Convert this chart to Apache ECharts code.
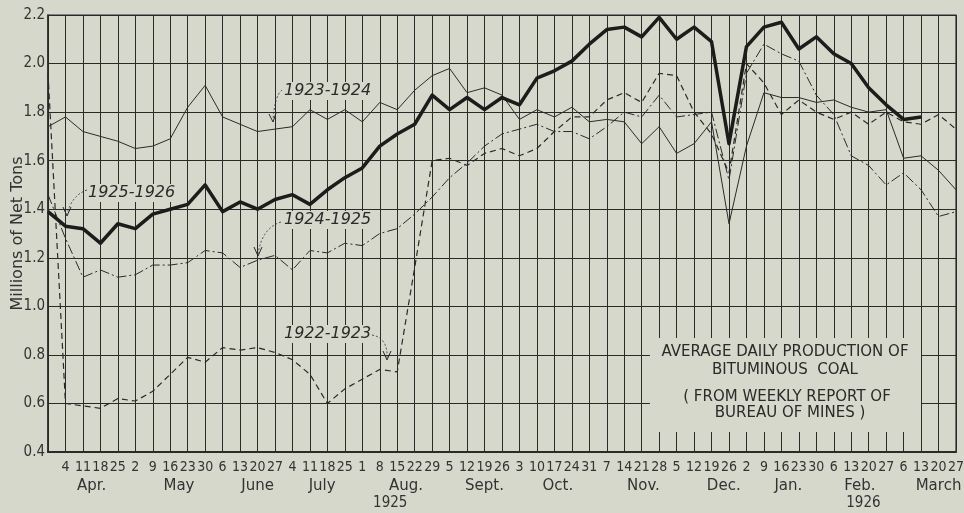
<!DOCTYPE html>
<html>
<head>
<meta charset="utf-8">
<script src="https://cdn.jsdelivr.net/npm/echarts@6/dist/echarts.min.js"></script>
<style>
html,body{margin:0;padding:0;background:#d6d8cc;}
#c{width:964px;height:513px;}
</style>
</head>
<body>
<div id="c"></div>
<script>
// Week-ending day labels (first slot = week before Apr 4, unlabeled)
const dayLabels = ['', '4','11','18','25','2','9','16','23','30','6','13','20','27','4','11','18','25','1','8','15','22','29','5','12','19','26','3','10','17','24','31','7','14','21','28','5','12','19','26','2','9','16','23','30','6','13','20','27','6','13','20','27'];
const monthLabels = ['Apr.','May','June','July','Aug.','Sept.','Oct.','Nov.','Dec.','Jan.','Feb.','March'];
const monthPos = [1.5, 6.5, 11.0, 14.7, 19.5, 24.0, 28.2, 33.1, 37.7, 41.4, 45.5, 50.0];
const yearLabels = ['1925','1926'];
const yearPos = [18.6, 45.7];

const s1925_26 = [1.39,1.33,1.32,1.26,1.34,1.32,1.38,1.40,1.42,1.50,1.39,1.43,1.40,1.44,1.46,1.42,1.48,1.53,1.57,1.66,1.71,1.75,1.87,1.81,1.86,1.81,1.86,1.83,1.94,1.97,2.01,2.08,2.14,2.15,2.11,2.19,2.10,2.15,2.09,1.67,2.07,2.15,2.17,2.06,2.11,2.04,2.00,1.90,1.83,1.77,1.78,null,null];
const s1923_24 = [1.74,1.78,1.72,1.70,1.68,1.65,1.66,1.69,1.82,1.91,1.78,1.75,1.72,1.73,1.74,1.81,1.77,1.81,1.76,1.84,1.81,1.89,1.95,1.98,1.88,1.90,1.87,1.77,1.81,1.78,1.82,1.76,1.77,1.76,1.67,1.74,1.63,1.67,1.76,1.34,1.66,1.88,1.86,1.86,1.84,1.85,1.82,1.80,1.81,1.61,1.62,1.56,1.48];
const s1924_25 = [1.46,1.28,1.12,1.15,1.12,1.13,1.17,1.17,1.18,1.23,1.22,1.16,1.19,1.21,1.15,1.23,1.22,1.26,1.25,1.30,1.32,1.38,1.45,1.53,1.59,1.66,1.71,1.73,1.75,1.72,1.72,1.69,1.74,1.80,1.78,1.87,1.78,1.79,1.80,1.52,1.96,2.08,2.04,2.01,1.87,1.79,1.62,1.58,1.50,1.55,1.48,1.37,1.39];
const s1922_23 = [1.96,0.60,0.59,0.58,0.62,0.61,0.65,0.72,0.79,0.77,0.83,0.82,0.83,0.81,0.78,0.72,0.60,0.66,0.70,0.74,0.73,1.16,1.60,1.61,1.58,1.63,1.65,1.62,1.65,1.72,1.78,1.78,1.85,1.88,1.84,1.96,1.95,1.80,1.71,1.55,2.00,1.92,1.79,1.85,1.80,1.77,1.80,1.75,1.80,1.76,1.75,1.79,1.73];

const INK = '#2a2a28';
const BG = '#d6d8cc';
const chart = echarts.init(document.getElementById('c'), null, {renderer:'canvas'});

function nearestLabel(v, pos, labels){
  for (let i=0;i<pos.length;i++){ if (Math.abs(pos[i]-v) < 0.01) return labels[i]; }
  return '';
}
const lineBase = {type:'line', symbol:'none', smooth:false, silent:true, animation:false};
const narrow = 'Liberation Sans Narrow, DejaVu Sans Condensed, sans-serif';

const option = {
  backgroundColor: BG,
  animation: false,
  grid: {left:48, right:8, top:15, bottom:61, containLabel:false, outerBoundsMode:'none',
         show:true, borderColor:INK, borderWidth:1.2, backgroundColor:'transparent'},
  xAxis: [
    {type:'category', data: dayLabels, boundaryGap:false,
     axisLine:{show:true, onZero:false, lineStyle:{color:INK, width:2}},
     axisTick:{show:false},
     splitLine:{show:true, interval:0, lineStyle:{color:INK, width:1}},
     axisLabel:{interval:0, margin:8, color:'#333', fontSize:14, fontFamily:narrow}},
    {type:'value', min:-1, max:51, position:'bottom',
     axisLine:{show:false, onZero:false}, axisTick:{show:false}, splitLine:{show:false},
     axisLabel:{customValues: monthPos, margin:27, color:'#333', fontSize:15, fontFamily:'DejaVu Sans, sans-serif',
       formatter: v => nearestLabel(v, monthPos, monthLabels)}},
    {type:'value', min:-1, max:51, position:'bottom',
     axisLine:{show:false, onZero:false}, axisTick:{show:false}, splitLine:{show:false},
     axisLabel:{customValues: yearPos, margin:44, color:'#333', fontSize:15, fontFamily:narrow,
       formatter: v => nearestLabel(v, yearPos, yearLabels)}}
  ],
  yAxis: {type:'value', min:0.4, max:2.2, interval:0.2,
    name:'Millions of Net Tons', nameLocation:'middle', nameGap:22, nameRotate:90, nameMoveOverlap:false,
    nameTextStyle:{color:'#333', fontSize:16, fontFamily:'DejaVu Sans, sans-serif'},
    axisLine:{show:true, onZero:false, lineStyle:{color:INK, width:1.5}},
    axisTick:{show:false},
    splitLine:{show:true, lineStyle:{color:INK, width:1}},
    axisLabel:{margin:3, color:'#333', fontSize:15, fontFamily:narrow,
      formatter: v => v.toFixed(1)}},
  series: [
    Object.assign({}, lineBase, {name:'1922-1923', data:s1922_23, lineStyle:{color:INK, width:1.2, type:[6,4]}}),
    Object.assign({}, lineBase, {name:'1924-1925', data:s1924_25, lineStyle:{color:INK, width:1, type:[10,3,2,3]}}),
    Object.assign({}, lineBase, {name:'1923-1924', data:s1923_24, lineStyle:{color:INK, width:1}}),
    Object.assign({}, lineBase, {name:'1925-1926', data:s1925_26, lineStyle:{color:'#1c1c1a', width:3.5, join:'round'}})
  ],
  graphic: [
    {type:'rect', shape:{x:650, y:338, width:271, height:94}, style:{fill:BG}, z:50},
    {type:'text', x:785, y:352, z:51, style:{text:'AVERAGE DAILY PRODUCTION OF', fill:'#2a2a28', font:'15px DejaVu Sans, sans-serif', align:'center', verticalAlign:'middle'}},
    {type:'text', x:785, y:370, z:51, style:{text:'BITUMINOUS  COAL', fill:'#2a2a28', font:'15px DejaVu Sans, sans-serif', align:'center', verticalAlign:'middle'}},
    {type:'text', x:787, y:397, z:51, style:{text:'( FROM WEEKLY REPORT OF', fill:'#2a2a28', font:'15px DejaVu Sans, sans-serif', align:'center', verticalAlign:'middle'}},
    {type:'text', x:790, y:413, z:51, style:{text:'BUREAU OF MINES )', fill:'#2a2a28', font:'15px DejaVu Sans, sans-serif', align:'center', verticalAlign:'middle'}},
    {type:'text', x:283, y:91, z:51, style:{text:'1923-1924', fill:'#2a2a28', font:'italic 16px DejaVu Sans, sans-serif', verticalAlign:'middle', backgroundColor:BG, padding:[1,1]}},
    {type:'text', x:87, y:193, z:51, style:{text:'1925-1926', fill:'#2a2a28', font:'italic 16px DejaVu Sans, sans-serif', verticalAlign:'middle', backgroundColor:BG, padding:[1,1]}},
    {type:'text', x:283, y:220, z:51, style:{text:'1924-1925', fill:'#2a2a28', font:'italic 16px DejaVu Sans, sans-serif', verticalAlign:'middle', backgroundColor:BG, padding:[1,1]}},
    {type:'text', x:283, y:334, z:51, style:{text:'1922-1923', fill:'#2a2a28', font:'italic 16px DejaVu Sans, sans-serif', verticalAlign:'middle', backgroundColor:BG, padding:[1,1]}},
    {type:'bezierCurve', z:52, shape:{x1:282, y1:90, x2:273, y2:120, cpx1:275, cpy1:95}, style:{stroke:INK, lineWidth:0.8, lineDash:[2,2], fill:null}},
    {type:'polyline', z:52, shape:{points:[[269,114],[273,122],[276,113]]}, style:{stroke:INK, lineWidth:1, fill:null}},
    {type:'bezierCurve', z:52, shape:{x1:87, y1:190, x2:67, y2:214, cpx1:72, cpy1:195}, style:{stroke:INK, lineWidth:0.8, lineDash:[2,2], fill:null}},
    {type:'polyline', z:52, shape:{points:[[63,207],[67,216],[71,207]]}, style:{stroke:INK, lineWidth:1, fill:null}},
    {type:'bezierCurve', z:52, shape:{x1:281, y1:222, x2:258, y2:254, cpx1:262, cpy1:228}, style:{stroke:INK, lineWidth:0.8, lineDash:[2,2], fill:null}},
    {type:'polyline', z:52, shape:{points:[[254,247],[258,256],[262,247]]}, style:{stroke:INK, lineWidth:1, fill:null}},
    {type:'bezierCurve', z:52, shape:{x1:372, y1:335, x2:387, y2:358, cpx1:388, cpy1:338}, style:{stroke:INK, lineWidth:0.8, lineDash:[2,2], fill:null}},
    {type:'polyline', z:52, shape:{points:[[383,351],[387,360],[391,351]]}, style:{stroke:INK, lineWidth:1, fill:null}}
  ]
};
chart.setOption(option);
</script>
</body>
</html>
